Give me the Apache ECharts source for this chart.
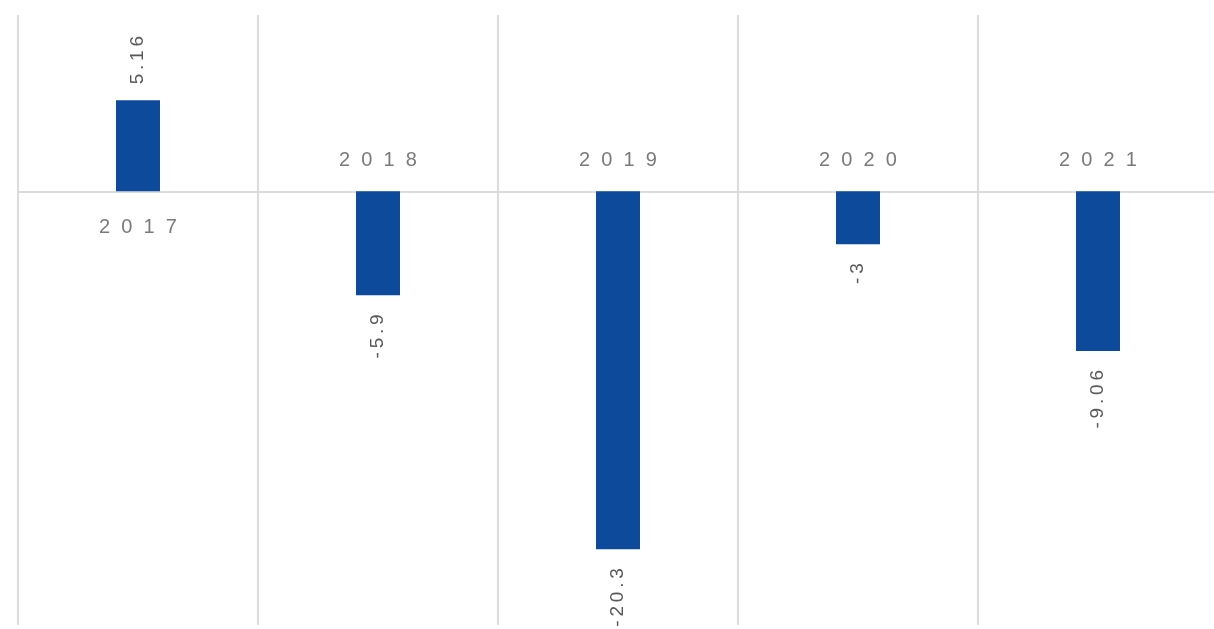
<!DOCTYPE html>
<html>
<head>
<meta charset="utf-8">
<script src="https://cdn.jsdelivr.net/npm/echarts@6/dist/echarts.min.js"></script>
<style>
  html, body { margin: 0; padding: 0; background: #ffffff; }
  #chart { width: 1214px; height: 629px; }
</style>
</head>
<body>
<div id="chart"></div>
<script>
// Annual change by year
const categories = ['2017', '2018', '2019', '2020', '2021'];
const values = [5.16, -5.9, -20.3, -3, -9.06];

const FONT = '"Liberation Sans", Arial, sans-serif';
const TEXT_COLOR = '#595959';
const BAR_COLOR = '#0d4a9c';
const GRID_COLOR = '#dcdcdc';

// spread characters apart to mimic wide letter spacing
function spread(str, gap) {
  return String(str).split('').join(gap);
}

const barData = values.map(function (v) {
  const positive = v >= 0;
  return {
    value: v,
    label: {
      position: positive ? 'top' : 'bottom',
      align: positive ? 'left' : 'right',
      verticalAlign: 'middle',
      distance: positive ? 16 : 19
    }
  };
});

// year labels sit on the zero line, on the side opposite to the bar
const yearLabelData = categories.map(function (c, i) {
  const positive = values[i] >= 0;
  return {
    value: [i, 0],
    name: c,
    label: {
      position: positive ? 'bottom' : 'top',
      distance: positive ? 26 : 20
    }
  };
});

const chart = echarts.init(document.getElementById('chart'), null, { renderer: 'canvas' });

chart.setOption({
  animation: false,
  backgroundColor: '#ffffff',
  grid: { left: 18, right: -4, top: 15, bottom: 4, outerBoundsMode: 'none', containLabel: false },
  xAxis: {
    type: 'category',
    data: categories,
    boundaryGap: true,
    axisLine: { show: true, onZero: true, lineStyle: { color: GRID_COLOR, width: 2 } },
    axisTick: { show: false },
    axisLabel: { show: false },
    splitLine: { show: true, interval: 0, lineStyle: { color: GRID_COLOR, width: 2 } }
  },
  yAxis: {
    type: 'value',
    min: -24.6,
    max: 10,
    show: false,
    splitLine: { show: false }
  },
  series: [
    {
      type: 'bar',
      data: barData,
      barWidth: 44,
      itemStyle: { color: BAR_COLOR },
      label: {
        show: true,
        rotate: 90,
        color: TEXT_COLOR,
        fontFamily: FONT,
        fontSize: 19,
        formatter: function (p) {
          return spread(p.value, '\u2009');
        }
      }
    },
    {
      type: 'scatter',
      data: yearLabelData,
      symbolSize: 1,
      itemStyle: { color: 'transparent' },
      silent: true,
      z: 5,
      label: {
        show: true,
        color: TEXT_COLOR,
        fontFamily: FONT,
        fontSize: 20,
        formatter: function (p) {
          return spread(p.name, '\u2007');
        }
      }
    }
  ]
});
</script>
</body>
</html>
